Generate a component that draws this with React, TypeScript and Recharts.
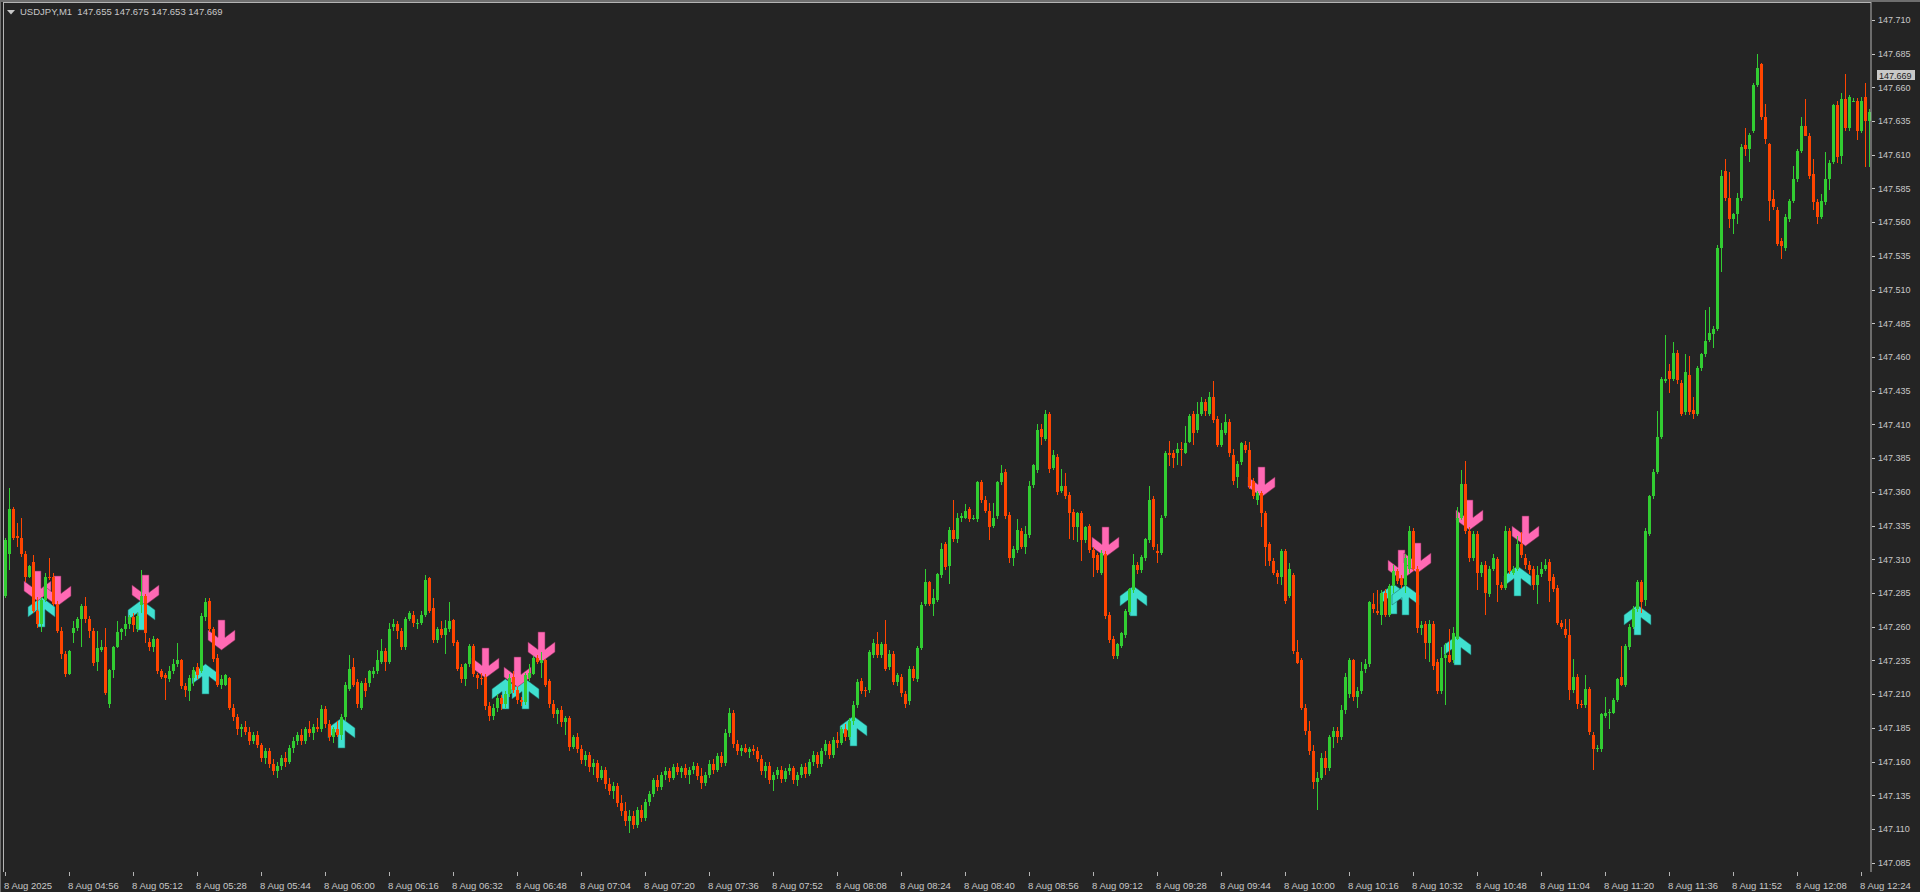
import React from "react";
import { ComposedChart, Bar, XAxis, YAxis } from "recharts";

const BG = "#242424";
const BULL = "#32cd32";
const BEAR = "#ff4500";
const UP_ARROW = "#40e0d0";
const DOWN_ARROW = "#ff69b4";
const FRAME = "#b4b4b4";
const TEXT = "#c8c8c8";
const FONT = '"Liberation Sans", Arial, sans-serif';

// first bar on screen is 04:40 (minutes after midnight)
const startMinute = 280;

// prices are in 0.001 steps above 147.000, one bar per minute
const opens = [
  283, 314, 347, 327, 326, 314, 297, 308, 272, 262,
  280, 297, 297, 277, 257, 240, 225, 255, 259, 266,
  275, 266, 257, 234, 243, 245, 203, 228, 245, 256,
  258, 262, 267, 258, 276, 283, 249, 245, 251, 227,
  224, 221, 227, 232, 235, 216, 212, 222, 230, 227,
  267, 279, 258, 237, 217, 217, 222, 200, 193, 184,
  186, 182, 175, 180, 172, 163, 168, 158, 153, 157,
  163, 160, 170, 175, 180, 175, 184, 181, 186, 184,
  199, 188, 178, 184, 180, 193, 214, 230, 219, 200,
  218, 218, 225, 227, 234, 242, 234, 260, 262, 257,
  245, 266, 269, 262, 263, 269, 296, 274, 250, 258,
  254, 258, 265, 249, 230, 221, 232, 246, 224, 222,
  223, 201, 194, 200, 207, 203, 210, 223, 213, 206,
  204, 222, 225, 237, 233, 235, 220, 203, 195, 198,
  189, 192, 171, 178, 169, 161, 165, 156, 159, 148,
  154, 143, 138, 142, 129, 123, 116, 120, 113, 124,
  118, 130, 136, 146, 141, 150, 153, 148, 156, 152,
  155, 150, 154, 157, 149, 144, 150, 158, 154, 164,
  159, 181, 196, 173, 168, 170, 167, 169, 168, 162,
  153, 157, 146, 150, 154, 147, 153, 155, 146, 150,
  156, 151, 160, 165, 158, 168, 173, 165, 176, 174,
  184, 178, 190, 202, 220, 213, 213, 239, 247, 239,
  247, 230, 240, 219, 223, 210, 205, 229, 221, 244,
  277, 293, 277, 280, 298, 321, 305, 332, 325, 341,
  341, 347, 340, 340, 367, 354, 346, 335, 342, 367,
  375, 343, 311, 317, 331, 319, 328, 365, 376, 407,
  399, 418, 378, 386, 361, 364, 358, 345, 334, 344,
  324, 335, 317, 313, 300, 314, 269, 251, 238, 246,
  254, 271, 287, 306, 302, 311, 324, 355, 316, 315,
  342, 389, 389, 389, 392, 389, 397, 418, 406, 418,
  427, 418, 430, 414, 395, 404, 412, 387, 371, 382,
  395, 391, 368, 354, 359, 344, 321, 309, 300, 297,
  316, 283, 298, 241, 235, 200, 183, 168, 145, 148,
  163, 155, 178, 183, 178, 198, 210, 235, 208, 212,
  229, 232, 277, 272, 269, 285, 269, 290, 301, 296,
  291, 303, 331, 303, 259, 262, 248, 262, 234, 212,
  237, 239, 235, 251, 341, 366, 331, 311, 329, 300,
  306, 284, 303, 310, 291, 289, 331, 300, 303, 321,
  311, 306, 303, 291, 299, 303, 308, 297, 289, 263,
  258, 254, 213, 223, 203, 202, 214, 180, 169, 169,
  194, 196, 196, 206, 223, 217, 245, 260, 273, 293,
  280, 329, 357, 375, 401, 442, 450, 444, 463, 441,
  419, 447, 421, 418, 452, 462, 473, 477, 481, 541,
  598, 578, 562, 566, 578, 617, 614, 628, 662, 677,
  638, 618, 577, 569, 546, 541, 562, 576, 592, 613,
  631, 624, 596, 575, 564, 575, 592, 605, 647, 609,
  651, 630, 650, 650, 628, 653, 635,
];

const highs = [
  326, 363, 349, 337, 341, 316, 306, 313, 282, 282,
  300, 311, 300, 279, 260, 242, 243, 264, 267, 277,
  282, 268, 259, 257, 250, 259, 229, 246, 264, 259,
  268, 269, 270, 270, 302, 284, 252, 253, 252, 229,
  226, 231, 236, 248, 236, 218, 224, 230, 233, 270,
  281, 281, 260, 240, 224, 225, 223, 203, 195, 188,
  190, 186, 182, 183, 174, 170, 170, 162, 160, 165,
  167, 172, 178, 182, 184, 186, 190, 188, 192, 202,
  201, 191, 186, 190, 195, 219, 239, 237, 221, 220,
  222, 228, 230, 243, 251, 244, 263, 266, 264, 259,
  267, 272, 272, 266, 272, 298, 297, 281, 260, 264,
  265, 278, 266, 250, 232, 233, 247, 247, 226, 226,
  225, 204, 203, 210, 209, 212, 225, 227, 215, 208,
  226, 232, 238, 239, 241, 236, 221, 206, 200, 201,
  194, 194, 180, 181, 172, 168, 167, 162, 161, 157,
  156, 148, 145, 144, 135, 130, 124, 123, 126, 128,
  132, 138, 148, 150, 152, 156, 155, 158, 159, 157,
  158, 156, 160, 159, 155, 152, 161, 162, 166, 167,
  184, 200, 198, 176, 172, 173, 171, 172, 171, 165,
  160, 160, 152, 156, 157, 155, 158, 157, 152, 158,
  159, 162, 168, 167, 170, 176, 175, 178, 182, 186,
  188, 192, 205, 221, 222, 215, 243, 251, 256, 249,
  265, 243, 242, 226, 225, 212, 231, 231, 246, 278,
  303, 294, 288, 300, 322, 323, 334, 354, 344, 344,
  351, 349, 343, 368, 369, 357, 352, 352, 368, 380,
  377, 345, 320, 340, 333, 335, 368, 381, 410, 410,
  421, 419, 391, 388, 377, 374, 360, 347, 345, 346,
  335, 336, 319, 315, 317, 316, 271, 253, 248, 256,
  273, 289, 314, 308, 313, 326, 364, 357, 321, 343,
  390, 398, 391, 396, 397, 409, 418, 420, 427, 430,
  429, 434, 442, 416, 411, 418, 414, 392, 383, 397,
  398, 397, 370, 361, 361, 346, 323, 311, 302, 318,
  318, 307, 300, 250, 237, 203, 190, 172, 152, 166,
  168, 180, 186, 186, 202, 226, 237, 236, 215, 234,
  236, 279, 285, 287, 287, 288, 292, 306, 303, 298,
  314, 335, 333, 305, 264, 264, 265, 264, 236, 245,
  248, 258, 260, 349, 376, 383, 334, 331, 331, 308,
  309, 305, 314, 312, 293, 335, 333, 305, 327, 330,
  314, 309, 305, 305, 308, 310, 310, 299, 291, 265,
  266, 266, 236, 225, 206, 224, 215, 182, 172, 196,
  208, 199, 207, 222, 246, 247, 262, 275, 295, 295,
  333, 358, 377, 420, 445, 476, 455, 471, 465, 443,
  462, 461, 430, 453, 463, 495, 497, 483, 543, 599,
  607, 597, 567, 582, 618, 630, 626, 663, 685, 678,
  648, 619, 584, 571, 548, 566, 577, 602, 614, 638,
  651, 626, 607, 577, 581, 612, 606, 648, 650, 656,
  670, 654, 652, 652, 653, 663, 644,
];

const lows = [
  281, 302, 324, 319, 312, 293, 296, 270, 259, 256,
  278, 295, 275, 255, 236, 223, 224, 248, 257, 245,
  263, 252, 231, 227, 241, 209, 200, 222, 244, 250,
  253, 258, 256, 256, 270, 248, 242, 241, 225, 221,
  206, 219, 225, 230, 214, 208, 205, 216, 221, 226,
  264, 256, 234, 215, 214, 216, 198, 190, 180, 178,
  180, 172, 173, 170, 160, 158, 155, 150, 148, 154,
  156, 158, 166, 172, 172, 173, 178, 176, 182, 182,
  185, 175, 174, 178, 176, 190, 212, 215, 200, 198,
  208, 215, 222, 225, 232, 227, 232, 257, 251, 243,
  243, 264, 260, 258, 261, 267, 270, 248, 248, 252,
  240, 256, 246, 227, 218, 216, 230, 223, 214, 217,
  198, 190, 191, 197, 198, 200, 208, 211, 203, 201,
  202, 220, 224, 232, 222, 215, 200, 192, 188, 186,
  180, 168, 169, 166, 158, 157, 152, 150, 145, 146,
  140, 135, 132, 126, 120, 112, 107, 110, 111, 115,
  116, 127, 134, 138, 139, 146, 145, 146, 150, 148,
  148, 143, 151, 146, 140, 142, 148, 151, 152, 156,
  157, 178, 170, 165, 164, 166, 163, 165, 160, 150,
  148, 143, 138, 147, 144, 145, 150, 143, 142, 148,
  148, 149, 157, 155, 156, 165, 162, 163, 170, 172,
  175, 176, 187, 200, 210, 208, 211, 237, 237, 237,
  227, 228, 217, 216, 208, 200, 202, 220, 219, 243,
  275, 275, 268, 278, 296, 302, 292, 323, 322, 338,
  340, 338, 339, 338, 352, 344, 324, 333, 340, 365,
  340, 307, 305, 315, 318, 314, 326, 363, 374, 395,
  398, 374, 376, 358, 359, 355, 325, 324, 323, 309,
  322, 315, 297, 300, 298, 266, 248, 236, 236, 244,
  252, 269, 285, 299, 300, 309, 322, 317, 307, 313,
  341, 379, 378, 380, 379, 388, 396, 395, 404, 416,
  416, 416, 411, 393, 393, 402, 386, 365, 363, 380,
  389, 362, 355, 350, 334, 305, 305, 298, 292, 291,
  277, 281, 240, 232, 198, 180, 165, 140, 124, 146,
  150, 153, 170, 174, 176, 195, 207, 205, 200, 210,
  226, 230, 270, 269, 261, 267, 267, 285, 292, 289,
  285, 300, 301, 255, 254, 236, 234, 228, 210, 210,
  202, 233, 233, 250, 339, 329, 308, 309, 287, 297,
  269, 282, 301, 278, 287, 287, 299, 298, 301, 311,
  303, 299, 287, 277, 297, 301, 278, 286, 261, 258,
  252, 206, 211, 199, 200, 200, 180, 154, 167, 167,
  192, 184, 195, 204, 216, 215, 243, 258, 271, 270,
  275, 327, 355, 373, 399, 441, 433, 442, 440, 416,
  417, 417, 414, 416, 450, 460, 471, 467, 479, 523,
  576, 556, 551, 559, 576, 609, 605, 626, 660, 636,
  618, 561, 569, 542, 533, 539, 560, 574, 590, 611,
  629, 592, 569, 559, 562, 573, 584, 603, 604, 603,
  628, 628, 649, 621, 626, 601, 601,
];

const closes = [
  324, 347, 326, 326, 314, 297, 305, 272, 262, 280,
  297, 296, 277, 257, 240, 225, 242, 259, 266, 275,
  266, 257, 233, 244, 245, 211, 228, 245, 256, 258,
  262, 267, 261, 268, 283, 255, 245, 251, 227, 223,
  222, 227, 232, 235, 216, 213, 222, 228, 224, 268,
  278, 258, 236, 217, 221, 224, 200, 193, 184, 186,
  182, 175, 180, 172, 163, 168, 158, 153, 157, 163,
  160, 170, 175, 180, 175, 184, 181, 186, 184, 199,
  188, 178, 184, 180, 193, 217, 229, 217, 203, 218,
  212, 227, 227, 235, 242, 234, 258, 262, 257, 245,
  266, 270, 263, 263, 269, 295, 272, 250, 258, 254,
  259, 264, 248, 229, 221, 232, 246, 225, 222, 221,
  201, 194, 200, 207, 203, 210, 222, 213, 206, 204,
  224, 226, 237, 234, 235, 217, 203, 195, 198, 189,
  192, 171, 178, 169, 161, 165, 156, 159, 148, 154,
  143, 138, 142, 129, 123, 116, 120, 113, 124, 118,
  130, 136, 146, 141, 150, 153, 148, 156, 152, 155,
  150, 154, 157, 149, 144, 150, 158, 154, 164, 159,
  181, 196, 173, 168, 170, 167, 169, 168, 162, 153,
  157, 146, 150, 154, 147, 153, 155, 146, 150, 156,
  151, 160, 165, 158, 168, 173, 165, 176, 174, 184,
  178, 190, 202, 219, 212, 212, 241, 248, 239, 247,
  229, 240, 219, 224, 211, 203, 229, 222, 244, 276,
  293, 277, 281, 299, 318, 304, 332, 325, 341, 342,
  346, 340, 341, 367, 354, 346, 334, 341, 367, 374,
  342, 311, 318, 332, 319, 329, 364, 380, 406, 401,
  418, 377, 387, 360, 364, 357, 344, 334, 344, 324,
  334, 317, 311, 302, 315, 268, 250, 238, 247, 255,
  272, 288, 306, 302, 312, 325, 354, 319, 315, 341,
  389, 387, 385, 392, 391, 396, 416, 404, 418, 427,
  420, 430, 413, 395, 406, 412, 389, 368, 381, 396,
  391, 364, 357, 359, 344, 319, 309, 300, 297, 316,
  279, 303, 242, 233, 200, 183, 168, 145, 148, 163,
  155, 178, 183, 178, 198, 223, 235, 208, 212, 227,
  232, 278, 273, 270, 285, 269, 290, 301, 294, 291,
  311, 331, 303, 259, 261, 248, 262, 231, 212, 237,
  239, 234, 255, 341, 366, 331, 311, 329, 300, 306,
  285, 303, 311, 291, 289, 331, 301, 303, 321, 313,
  306, 302, 291, 298, 303, 306, 294, 288, 263, 260,
  254, 213, 223, 203, 202, 214, 182, 169, 170, 195,
  196, 197, 206, 221, 217, 246, 260, 273, 293, 278,
  331, 357, 375, 401, 444, 444, 444, 463, 443, 418,
  449, 419, 418, 452, 462, 472, 478, 481, 541, 594,
  578, 562, 566, 578, 616, 614, 625, 662, 674, 638,
  622, 576, 571, 544, 542, 564, 576, 592, 613, 631,
  624, 594, 575, 564, 576, 592, 604, 647, 608, 651,
  630, 653, 650, 628, 650, 635, 642,
];

// signal arrows: bar index and price of the arrow tip
const upBars = [9, 34, 50, 84, 125, 130, 212, 282, 347, 350, 363, 378, 408];
const upTips = [282, 280, 232, 192, 221, 221, 194, 290, 292, 291, 254, 305, 276];
const downBars = [8, 13, 35, 54, 120, 128, 134, 275, 314, 349, 353, 366, 380];
const downTips = [279, 275, 276, 243, 222, 215, 234, 312, 356, 295, 300, 332, 320];

const priceTicks = [
  147.085, 147.11, 147.135, 147.16, 147.185, 147.21, 147.235, 147.26, 147.285,
  147.31, 147.335, 147.36, 147.385, 147.41, 147.435, 147.46, 147.485, 147.51,
  147.535, 147.56, 147.585, 147.61, 147.635, 147.66, 147.685, 147.71,
];
const lastPrice = 147.669;
const header = "USDJPY,M1  147.655 147.675 147.653 147.669";
const firstLabel = "8 Aug 2025";

const toPrice = (p: number) => Math.round((147 + p / 1000) * 1000) / 1000;
const pad = (n: number) => String(n).padStart(2, "0");

type Row = {
  t: string;
  o: number;
  h: number;
  l: number;
  c: number;
  range: [number, number];
  up: number | null;
  dn: number | null;
};

const data: Row[] = opens.map((o, i) => {
  const m = startMinute + i;
  return {
    t: `8 Aug ${pad(Math.floor(m / 60))}:${pad(m % 60)}`,
    o: toPrice(o),
    h: toPrice(highs[i]),
    l: toPrice(lows[i]),
    c: toPrice(closes[i]),
    range: [toPrice(lows[i]), toPrice(highs[i])],
    up: null,
    dn: null,
  };
});
upBars.forEach((b, k) => { data[b].up = toPrice(upTips[k]); });
downBars.forEach((b, k) => { data[b].dn = toPrice(downTips[k]); });

// candle drawn inside the high-low range bar that recharts lays out
const Candle = (props: any) => {
  const { x, y, width, height, payload } = props;
  if (x == null || y == null || !payload) return <g />;
  const top = Math.min(y, y + height);
  const bot = Math.max(y, y + height);
  const { o, h, l, c } = payload as Row;
  const k = h > l ? (bot - top) / (h - l) : 0;
  const yOf = (v: number) => top + (h - v) * k;
  const cx = Math.floor(x + width / 2);
  const color = c >= o ? BULL : BEAR;
  const bTop = Math.round(yOf(Math.max(o, c)));
  const bBot = Math.round(yOf(Math.min(o, c)));
  const wTop = Math.round(top);
  const wBot = Math.round(bot);
  return (
    <g shapeRendering="crispEdges">
      <rect x={cx} y={wTop} width={1} height={Math.max(1, wBot - wTop)} fill={color} />
      <rect x={cx - 1} y={bTop} width={3} height={Math.max(1, bBot - bTop)} fill={color} />
    </g>
  );
};

// thick arrows like the terminal's signal objects, tip at (0,0)
const downShape = "-3.5,-30 3.5,-30 3.5,-12.6 13.5,-20 13.5,-10 0,0 -13.5,-10 -13.5,-20 -3.5,-12.6";
const upShape = "-3.5,30 3.5,30 3.5,12.6 13.5,20 13.5,10 0,0 -13.5,10 -13.5,20 -3.5,12.6";

const makeArrow = (key: "up" | "dn") => (props: any) => {
  const { x, y, width, payload } = props;
  if (!payload || payload[key] == null || y == null) return <g />;
  const cx = Math.floor(x + width / 2) + 0.5;
  const fill = key === "up" ? UP_ARROW : DOWN_ARROW;
  const edge = key === "up" ? "#1d6b64" : "#7a2e55";
  const pts = key === "up" ? upShape : downShape;
  return (
    <g transform={`translate(${cx},${Math.round(y)})`}>
      <polygon points={pts} fill={fill} stroke={edge} strokeWidth={0.8} strokeOpacity={0.7} />
    </g>
  );
};

const TimeTick = (props: any) => {
  const { x, payload } = props;
  const label = payload.value === data[0].t ? firstLabel : payload.value;
  const tx = Math.floor(x) + 0.5;
  return (
    <g>
      <line x1={tx} x2={tx} y1={872} y2={876} stroke={FRAME} />
      <text x={x - 1} y={889} fill={TEXT} fontSize={9.5} fontFamily={FONT} textAnchor="start">
        {label}
      </text>
    </g>
  );
};

const PriceTick = (props: any) => {
  const { y, payload } = props;
  const v = Number(payload.value);
  const ty = Math.round(y) + 0.5;
  if (Math.abs(v - lastPrice) < 1e-6) {
    return (
      <g>
        <rect x={1877} y={Math.round(y) - 5} width={38} height={10} fill="#c8c8c8" />
        <text x={1879} y={y + 3.3} fill="#1c1c1c" fontSize={9} fontFamily={FONT}>
          {v.toFixed(3)}
        </text>
      </g>
    );
  }
  return (
    <g>
      <line x1={1872} x2={1875} y1={ty} y2={ty} stroke={TEXT} />
      <text x={1878} y={y + 3.3} fill={TEXT} fontSize={9} fontFamily={FONT}>
        {v.toFixed(3)}
      </text>
    </g>
  );
};

export default function App() {
  return (
    <div style={{ position: "relative", width: 1920, height: 892, background: BG, overflow: "hidden" }}>
      <style>{`body{margin:0;background:${BG}}`}</style>
      <ComposedChart
        width={1920}
        height={892}
        data={data}
        margin={{ top: 2, right: 0, bottom: 0, left: 3 }}
        barCategoryGap={0}
        barGap={0}
      >
        <XAxis
          xAxisId="main"
          dataKey="t"
          height={20}
          interval={15}
          axisLine={{ stroke: FRAME }}
          tickLine={false}
          tick={<TimeTick />}
        />
        <XAxis xAxisId="up" dataKey="t" hide />
        <XAxis xAxisId="dn" dataKey="t" hide />
        <YAxis
          orientation="right"
          width={49}
          domain={[147.0781, 147.7233]}
          allowDataOverflow
          ticks={[...priceTicks, lastPrice]}
          interval={0}
          axisLine={{ stroke: FRAME }}
          tickLine={false}
          tick={<PriceTick />}
        />
        <Bar xAxisId="up" dataKey="up" shape={makeArrow("up")} isAnimationActive={false} />
        <Bar xAxisId="dn" dataKey="dn" shape={makeArrow("dn")} isAnimationActive={false} />
        <Bar xAxisId="main" dataKey="range" shape={<Candle />} isAnimationActive={false} />
      </ComposedChart>
      <div style={{ position: "absolute", left: 0, top: 0, width: 1, height: 892, background: "#6e6e6e" }} />
      <div style={{ position: "absolute", left: 0, top: 0, width: 1920, height: 2, background: "#6e6e6e" }} />
      <div style={{ position: "absolute", left: 3, top: 2, width: 1, height: 870, background: FRAME }} />
      <div style={{ position: "absolute", left: 3, top: 2, width: 1868, height: 1, background: FRAME }} />
      <div
        style={{
          position: "absolute",
          left: 7,
          top: 6,
          display: "flex",
          alignItems: "center",
          gap: 5,
          color: TEXT,
          fontFamily: FONT,
          fontSize: 9.5,
          whiteSpace: "pre",
          lineHeight: "12px",
        }}
      >
        <svg width={8} height={5}>
          <polygon points="0,0 8,0 4,4.5" fill={TEXT} />
        </svg>
        <span>{header}</span>
      </div>
    </div>
  );
}
